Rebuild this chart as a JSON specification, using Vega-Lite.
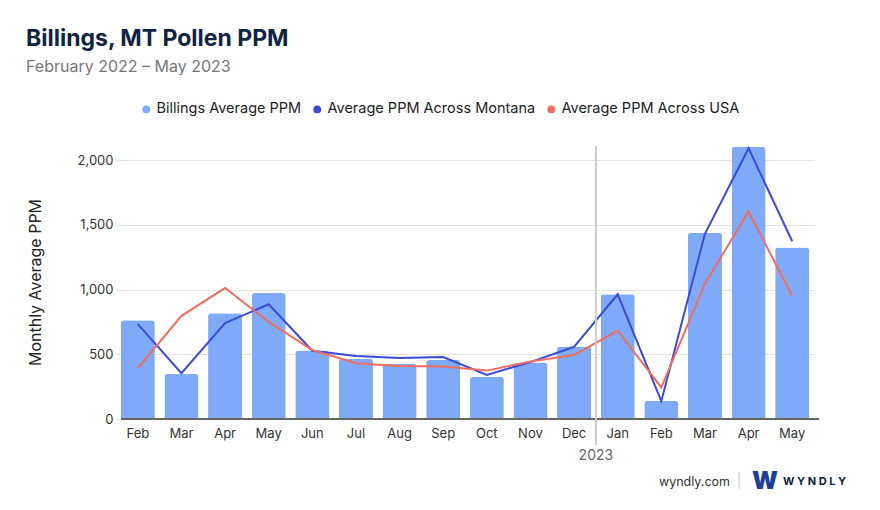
{
  "$schema": "https://vega.github.io/schema/vega-lite/v6.json",
  "autosize": "none",
  "width": 698,
  "height": 273,
  "padding": {"left": 121, "top": 146, "right": 61, "bottom": 91},
  "background": "white",
  "config": {
    "font": "Inter",
    "view": {"stroke": null}
  },
  "title": {
    "text": "Billings, MT Pollen PPM",
    "subtitle": "February 2022 – May 2023",
    "anchor": "start",
    "frame": "group",
    "dx": -95,
    "offset": 27,
    "fontSize": 23,
    "fontWeight": "bold",
    "color": "#0f2343",
    "subtitleFontSize": 16,
    "subtitleColor": "#777777",
    "subtitlePadding": 8
  },
  "layer": [
    {
      "data": {
        "values": [
          {"month": "Feb 2022", "billings": 764, "montana": 733, "usa": 392},
          {"month": "Mar 2022", "billings": 348, "montana": 354, "usa": 797},
          {"month": "Apr 2022", "billings": 818, "montana": 741, "usa": 1012},
          {"month": "May 2022", "billings": 973, "montana": 887, "usa": 751},
          {"month": "Jun 2022", "billings": 530, "montana": 528, "usa": 533},
          {"month": "Jul 2022", "billings": 464, "montana": 487, "usa": 431},
          {"month": "Aug 2022", "billings": 427, "montana": 472, "usa": 410},
          {"month": "Sep 2022", "billings": 456, "montana": 479, "usa": 405},
          {"month": "Oct 2022", "billings": 325, "montana": 341, "usa": 374},
          {"month": "Nov 2022", "billings": 437, "montana": 440, "usa": 445},
          {"month": "Dec 2022", "billings": 560, "montana": 558, "usa": 495},
          {"month": "Jan 2023", "billings": 965, "montana": 964, "usa": 682},
          {"month": "Feb 2023", "billings": 140, "montana": 138, "usa": 244},
          {"month": "Mar 2023", "billings": 1440, "montana": 1431, "usa": 1046},
          {"month": "Apr 2023", "billings": 2105, "montana": 2092, "usa": 1603},
          {"month": "May 2023", "billings": 1325, "montana": 1374, "usa": 952}
        ]
      },
      "encoding": {
        "x": {
          "field": "month",
          "type": "ordinal",
          "sort": null,
          "scale": {
            "domain": ["Feb 2022", "Mar 2022", "Apr 2022", "May 2022", "Jun 2022", "Jul 2022", "Aug 2022", "Sep 2022", "Oct 2022", "Nov 2022", "Dec 2022", "Jan 2023", "Feb 2023", "Mar 2023", "Apr 2023", "May 2023"],
            "range": [-5, 693],
            "paddingInner": 0,
            "paddingOuter": 0
          },
          "axis": {
            "title": null,
            "domain": false,
            "ticks": false,
            "grid": false,
            "labelAngle": 0,
            "labelPadding": 8,
            "labelFontSize": 13,
            "labelColor": "#333333",
            "labelExpr": "split(datum.label, ' ')[0]"
          }
        }
      },
      "layer": [
        {
          "mark": {"type": "bar", "width": {"band": 0.78}, "cornerRadiusTopLeft": 3, "cornerRadiusTopRight": 3},
          "encoding": {
            "y": {
              "field": "billings",
              "type": "quantitative",
              "scale": {"domain": [0, 2110], "nice": false},
              "axis": {
                "values": [0, 500, 1000, 1500, 2000],
                "format": ",.0f",
                "domain": false,
                "ticks": false,
                "gridColor": "#e3e3e3",
                "labelPadding": 8,
                "labelFontSize": 13,
                "labelColor": "#333333",
                "title": "Monthly Average PPM",
                "titleFontSize": 16,
                "titleFontWeight": "normal",
                "titleColor": "#222222",
                "titleX": -78,
                "titleY": 136
              }
            },
            "color": {
              "datum": "Billings Average PPM",
              "type": "nominal",
              "scale": {
                "domain": ["Billings Average PPM", "Average PPM Across Montana", "Average PPM Across USA"],
                "range": ["#7faaf8", "#3b4bd6", "#f06e60"]
              },
              "legend": {
                "title": null,
                "orient": "none",
                "direction": "horizontal",
                "legendX": 18,
                "legendY": -44,
                "symbolType": "circle",
                "symbolSize": 60,
                "labelFontSize": 14.5,
                "labelLimit": 400,
                "labelColor": "#222222",
                "labelOffset": 3,
                "columnPadding": 8,
                "encode": {
                  "symbols": {
                    "update": {
                      "fill": {"scale": "color", "field": "value"},
                      "strokeWidth": {"value": 0},
                      "opacity": {"value": 1}
                    }
                  }
                }
              }
            }
          }
        },
        {
          "mark": {"type": "rule", "color": "#666666", "strokeWidth": 2},
          "encoding": {"x": null, "y": {"datum": 0}}
        },
        {
          "mark": {"type": "line", "strokeWidth": 2},
          "encoding": {
            "y": {"field": "montana", "type": "quantitative"},
            "color": {"datum": "Average PPM Across Montana", "type": "nominal"}
          }
        },
        {
          "mark": {"type": "line", "strokeWidth": 2},
          "encoding": {
            "y": {"field": "usa", "type": "quantitative"},
            "color": {"datum": "Average PPM Across USA", "type": "nominal"}
          }
        }
      ]
    },
    {
      "data": {"values": [{"month": "Jan 2023", "top": 2110, "bottom": -200, "labelY": -285, "label": "2023"}]},
      "layer": [
        {
          "mark": {"type": "rule", "color": "#cccccc", "strokeWidth": 2},
          "encoding": {
            "x": {"field": "month", "type": "ordinal", "sort": null, "bandPosition": 0},
            "y": {"field": "top", "type": "quantitative"},
            "y2": {"field": "bottom"}
          }
        },
        {
          "mark": {"type": "text", "fontSize": 14, "color": "#666666", "baseline": "middle", "align": "center"},
          "encoding": {
            "x": {"field": "month", "type": "ordinal", "sort": null, "bandPosition": 0},
            "y": {"field": "labelY", "type": "quantitative"},
            "text": {"field": "label"}
          }
        }
      ]
    },
    {
      "data": {"values": [
        {"t": "wyndly.com", "k": "site"},
        {"t": "|", "k": "bar"},
        {"t": "W", "k": "logo"},
        {"t": "W Y N D L Y", "k": "brand"}
      ]},
      "layer": [
        {
          "transform": [{"filter": "datum.k == 'site'"}],
          "mark": {"type": "text", "x": {"expr": "width"}, "y": {"expr": "height"}, "dx": -89, "dy": 63, "align": "right", "baseline": "middle", "fontSize": 12.5, "color": "#333333"},
          "encoding": {"text": {"field": "t"}}
        },
        {
          "transform": [{"filter": "datum.k == 'bar'"}],
          "mark": {"type": "text", "x": {"expr": "width"}, "y": {"expr": "height"}, "dx": -80, "dy": 63, "align": "center", "baseline": "middle", "fontSize": 14, "color": "#cccccc"},
          "encoding": {"text": {"field": "t"}}
        },
        {
          "transform": [{"filter": "datum.k == 'logo'"}],
          "mark": {"type": "text", "x": {"expr": "width"}, "y": {"expr": "height"}, "dx": -67, "dy": 63, "align": "left", "baseline": "middle", "fontSize": 24, "fontWeight": 900, "color": "#1d3f94"},
          "encoding": {"text": {"field": "t"}}
        },
        {
          "transform": [{"filter": "datum.k == 'brand'"}],
          "mark": {"type": "text", "x": {"expr": "width"}, "y": {"expr": "height"}, "dx": -36, "dy": 63, "align": "left", "baseline": "middle", "fontSize": 11, "fontWeight": "bold", "color": "#0f2343"},
          "encoding": {"text": {"field": "t"}}
        }
      ]
    }
  ]
}
